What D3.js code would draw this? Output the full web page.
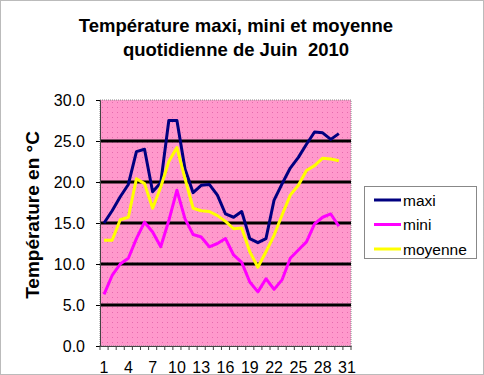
<!DOCTYPE html>
<html>
<head>
<meta charset="utf-8">
<script src="https://cdn.jsdelivr.net/npm/d3@7"></script>
<style>
  body { margin: 0; background: #fff; }
  svg { display: block; font-family: "Liberation Sans", Arial, sans-serif; }
</style>
</head>
<body>
<svg width="484" height="375"></svg>
<script>
const days = d3.range(1, 32);
const tickDays = [1, 4, 7, 10, 13, 16, 19, 22, 25, 28, 31];
const yTicks = [0, 5, 10, 15, 20, 25, 30];

const maxi = [15.0, 16.5, 18.2, 19.7, 23.7, 24.0, 18.8, 19.9, 27.5, 27.5,
  21.6, 18.7, 19.6, 19.7, 18.4, 16.1, 15.7, 16.4, 13.1, 12.6,
  13.1, 17.8, 19.8, 21.7, 23.0, 24.6, 26.1, 26.0, 25.2, 25.9];
const mini = [6.3, 8.6, 10.0, 10.7, 13.1, 15.1, 13.9, 12.1, 15.3, 19.0,
  15.5, 13.6, 13.3, 12.1, 12.5, 13.1, 11.1, 10.2, 7.8, 6.6,
  8.2, 6.9, 8.1, 10.7, 11.7, 12.7, 14.9, 15.7, 16.1, 14.6];
const moyenne = [12.9, 12.9, 15.4, 15.7, 20.4, 19.8, 16.8, 19.4, 22.5, 24.2,
  20.4, 16.8, 16.5, 16.4, 15.9, 15.2, 14.3, 14.4, 11.5, 9.6,
  11.5, 13.5, 16.0, 18.4, 19.6, 21.4, 22.0, 22.9, 22.8, 22.6];

const series = [
  { name: "maxi", values: maxi, color: "#000080" },
  { name: "mini", values: mini, color: "#ff00ff" },
  { name: "moyenne", values: moyenne, color: "#ffff00" }
];

const svg = d3.select("svg");
const plot = { left: 100, top: 100, right: 351, bottom: 346 };

// motif pointillé du fond
const defs = svg.append("defs");
const pat = defs.append("pattern")
  .attr("id", "dots")
  .attr("patternUnits", "userSpaceOnUse")
  .attr("width", 5).attr("height", 5);
pat.append("rect").attr("width", 5).attr("height", 5).attr("fill", "#ff99cc");
pat.append("rect").attr("x", 2).attr("y", 2).attr("width", 1).attr("height", 1).attr("fill", "#e66aae");

// cadre extérieur
svg.append("rect")
  .attr("x", 0.5).attr("y", 0.5).attr("width", 483).attr("height", 374)
  .attr("fill", "#fff").attr("stroke", "#777").attr("stroke-dasharray", "1,1");

// titre
svg.append("text")
  .attr("x", 236).attr("y", 32)
  .attr("text-anchor", "middle")
  .attr("font-size", 18.5).attr("font-weight", "bold")
  .text("Température maxi, mini et moyenne");
svg.append("text")
  .attr("x", 236).attr("y", 56)
  .attr("text-anchor", "middle")
  .attr("font-size", 18.5).attr("font-weight", "bold")
  .attr("xml:space", "preserve")
  .text("quotidienne de Juin  2010");

const x = d3.scaleBand()
  .domain(days)
  .range([plot.left, plot.right]);

const y = d3.scaleLinear()
  .domain([0, 30])
  .range([plot.bottom, plot.top]);

// zone de tracé
svg.append("rect")
  .attr("x", plot.left).attr("y", plot.top)
  .attr("width", plot.right - plot.left).attr("height", plot.bottom - plot.top)
  .attr("fill", "url(#dots)")
  .attr("stroke", "#888").attr("stroke-dasharray", "1,1");

// grille
svg.append("g")
  .selectAll("line")
  .data(yTicks.filter(d => d > 0 && d < 30))
  .enter().append("line")
  .attr("x1", plot.left).attr("x2", plot.right)
  .attr("y1", d => y(d)).attr("y2", d => y(d))
  .attr("stroke", "#000").attr("stroke-width", 3);

// axe Y
const yAxis = svg.append("g")
  .attr("transform", `translate(${plot.left},0)`)
  .call(d3.axisLeft(y).tickValues(yTicks).tickFormat(d3.format(".1f")).tickSize(4).tickPadding(11));
yAxis.select(".domain").attr("stroke", "#444");
yAxis.selectAll("text").attr("font-size", 16).attr("font-family", "Liberation Sans, Arial, sans-serif").attr("fill", "#000");

// axe X
const xAxis = svg.append("g")
  .attr("transform", `translate(0,${plot.bottom})`)
  .call(d3.axisBottom(x).tickValues(tickDays).tickSize(0).tickPadding(16));
xAxis.select(".domain").attr("stroke", "#444");
xAxis.selectAll("text").attr("font-size", 16).attr("font-family", "Liberation Sans, Arial, sans-serif").attr("fill", "#000");
xAxis.selectAll(".tick line").remove();

// petites graduations entre catégories
svg.append("g")
  .selectAll("line")
  .data(days.concat([32]))
  .enter().append("line")
  .attr("x1", d => d <= 31 ? x(d) : plot.right)
  .attr("x2", d => d <= 31 ? x(d) : plot.right)
  .attr("y1", plot.bottom).attr("y2", plot.bottom + 4)
  .attr("stroke", "#444");

// titre axe Y
svg.append("text")
  .attr("transform", "translate(39,215) rotate(-90)")
  .attr("text-anchor", "middle")
  .attr("font-size", 19).attr("font-weight", "bold")
  .text("Température en °C");

// courbes
const line = d3.line()
  .x((d, i) => x(days[i]) + x.bandwidth() / 2)
  .y(d => y(d));

svg.append("g")
  .selectAll("path")
  .data(series)
  .enter().append("path")
  .attr("d", d => line(d.values))
  .attr("fill", "none")
  .attr("stroke", d => d.color)
  .attr("stroke-width", 3)
  .attr("stroke-linejoin", "round");

// légende
const legend = svg.append("g");
legend.append("rect")
  .attr("x", 364.5).attr("y", 186.5).attr("width", 112).attr("height", 72)
  .attr("fill", "#fff").attr("stroke", "#888");

const item = legend.selectAll("g")
  .data(series)
  .enter().append("g")
  .attr("transform", (d, i) => `translate(374,${200 + i * 24.5})`);

item.append("line")
  .attr("x1", 0).attr("x2", 27)
  .attr("stroke", d => d.color).attr("stroke-width", 3);

item.append("text")
  .attr("x", 29).attr("y", 5.5)
  .attr("font-size", 15.5)
  .text(d => d.name);
</script>
</body>
</html>
